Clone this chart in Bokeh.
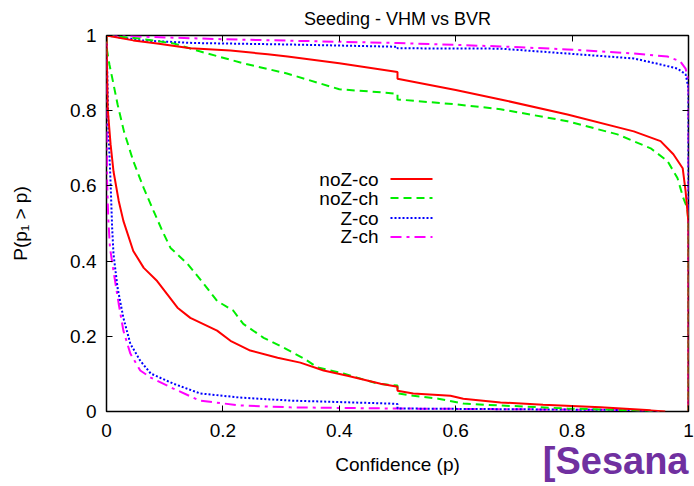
from bokeh.plotting import figure
from bokeh.models import Range1d, LinearAxis, FixedTicker, Label, Title
from bokeh.embed import file_html
from bokeh.resources import INLINE

# ---- data ----
# upper branch curves
noz_co_up_p = [0, 0.046, 0.087, 0.144, 0.213, 0.277, 0.311, 0.40, 0.5, 0.5, 0.6, 0.677, 0.792, 0.906, 0.952, 0.974, 0.99, 0.995, 1.0, 1.0]
noz_co_up_P = [1, 0.987, 0.979, 0.966, 0.960, 0.950, 0.944, 0.926, 0.903, 0.885, 0.855, 0.830, 0.790, 0.745, 0.719, 0.684, 0.647, 0.586, 0.50, 0]

noz_ch_up_p = [0, 0.05, 0.115, 0.16, 0.235, 0.31, 0.40, 0.48, 0.5, 0.5, 0.6, 0.677, 0.792, 0.878, 0.935, 0.964, 0.981, 0.991, 0.998, 1.0, 1.0]
noz_ch_up_P = [1, 0.993, 0.979, 0.958, 0.926, 0.899, 0.857, 0.848, 0.845, 0.830, 0.817, 0.804, 0.772, 0.737, 0.700, 0.666, 0.621, 0.568, 0.541, 0.50, 0]

z_co_up_p = [0, 0.06, 0.15, 0.316, 0.5, 0.5, 0.677, 0.792, 0.906, 0.952, 0.981, 0.995, 1.0, 1.0]
z_co_up_P = [1, 0.987, 0.980, 0.976, 0.970, 0.966, 0.965, 0.952, 0.939, 0.923, 0.912, 0.897, 0.86, 0]

z_ch_up_p = [0, 0.1, 0.2, 0.35, 0.5, 0.677, 0.792, 0.906, 0.964, 0.986, 0.995, 1.0, 1.0]
z_ch_up_P = [1, 0.995, 0.990, 0.985, 0.980, 0.971, 0.963, 0.952, 0.944, 0.931, 0.912, 0.88, 0]

# lower branch curves
noz_co_lo_p = [0, 0.002, 0.007, 0.012, 0.021, 0.029, 0.046, 0.064, 0.087, 0.122, 0.144, 0.19, 0.213, 0.247, 0.294, 0.333, 0.373, 0.414, 0.471, 0.5, 0.5, 0.527, 0.591, 0.613, 0.677, 0.75, 0.849, 0.935, 0.96]
noz_co_lo_P = [1, 0.806, 0.711, 0.639, 0.560, 0.507, 0.427, 0.382, 0.347, 0.276, 0.249, 0.215, 0.188, 0.162, 0.143, 0.130, 0.109, 0.095, 0.074, 0.066, 0.055, 0.048, 0.042, 0.034, 0.024, 0.018, 0.011, 0.003, 0]

noz_ch_lo_p = [0, 0.001, 0.005, 0.01, 0.019, 0.03, 0.046, 0.064, 0.081, 0.096, 0.11, 0.139, 0.167, 0.19, 0.218, 0.235, 0.27, 0.304, 0.339, 0.363, 0.407, 0.466, 0.5, 0.5, 0.527, 0.57, 0.613, 0.677, 0.792, 0.906, 0.95]
noz_ch_lo_P = [1, 0.96, 0.923, 0.886, 0.817, 0.745, 0.666, 0.594, 0.533, 0.480, 0.435, 0.393, 0.340, 0.294, 0.268, 0.233, 0.196, 0.170, 0.141, 0.117, 0.101, 0.074, 0.069, 0.048, 0.042, 0.034, 0.021, 0.016, 0.008, 0.003, 0]

z_co_lo_p = [0, 0.002, 0.0034, 0.0069, 0.0097, 0.012, 0.019, 0.029, 0.041, 0.058, 0.076, 0.115, 0.161, 0.23, 0.316, 0.488, 0.5, 0.5, 0.7, 0.9, 0.95]
z_co_lo_P = [1, 0.85, 0.745, 0.613, 0.489, 0.419, 0.329, 0.249, 0.180, 0.135, 0.101, 0.074, 0.048, 0.037, 0.029, 0.021, 0.020, 0.008, 0.006, 0.004, 0]

z_ch_lo_p = [0, 0.001, 0.003, 0.006, 0.012, 0.021, 0.029, 0.041, 0.058, 0.076, 0.115, 0.16, 0.23, 0.316, 0.488, 0.7, 0.9, 0.95]
z_ch_lo_P = [1, 0.613, 0.515, 0.435, 0.374, 0.286, 0.215, 0.154, 0.109, 0.090, 0.061, 0.029, 0.016, 0.011, 0.008, 0.006, 0.004, 0]

series_names = ["noZ-co", "noZ-ch", "Z-co", "Z-ch"]
ticks = [0, 0.2, 0.4, 0.6, 0.8, 1]
tick_labels = ["0", "0.2", "0.4", "0.6", "0.8", "1"]

# ---- layout ----
W, H = 694, 486
L, R, T, B = 106, 688, 34, 411
FONT = "Liberation Sans"

def sx(px):
    return (px - L) / (R - L)

def sy(py):
    return (B - py) / (B - T)

p = figure(width=W, height=H, output_backend="svg", toolbar_location=None,
           x_range=Range1d(0, 1), y_range=Range1d(0, 1),
           min_border_left=L, min_border_right=W - R, min_border_top=T,
           min_border_bottom=H - B, x_axis_label="Confidence (p)",
           y_axis_label="P(p\u2081 > p)", title="Seeding - VHM vs BVR")
p.grid.visible = False
p.outline_line_color = "black"
p.outline_line_width = 1.5
p.background_fill_color = "white"
p.border_fill_color = "white"

p.title.align = "center"
p.title.offset = -8
p.title.text_font = FONT
p.title.text_font_size = "18px"
p.title.text_font_style = "normal"
p.title.text_color = "black"
p.title.standoff = 13

overrides = {t: s for t, s in zip(ticks, tick_labels)}
for ax in p.xaxis + p.yaxis:
    ax.ticker = FixedTicker(ticks=ticks)
    ax.major_label_overrides = overrides
    ax.major_tick_in = 6
    ax.major_tick_out = 0
    ax.minor_tick_line_color = None
    ax.axis_line_color = None
    ax.major_tick_line_color = "black"
    ax.major_label_text_font = FONT
    ax.major_label_text_font_size = "19px"
    ax.major_label_text_color = "black"
    ax.axis_label_text_font = FONT
    ax.axis_label_text_font_size = "19px"
    ax.axis_label_text_font_style = "normal"
    ax.axis_label_text_color = "black"
p.xaxis.major_label_standoff = 12
p.yaxis.major_label_standoff = 10
p.xaxis.axis_label_standoff = 14
p.yaxis.axis_label_standoff = 36

for loc in ["above", "right"]:
    a = LinearAxis(ticker=FixedTicker(ticks=ticks), major_label_text_font_size="0px",
                   major_tick_in=6, major_tick_out=0, minor_tick_line_color=None,
                   axis_line_color=None, major_label_standoff=0)
    a.major_label_overrides = {t: "" for t in ticks}
    p.add_layout(a, loc)

styles = [
    dict(color="#ff0000", dash="solid"),
    dict(color="#00ee00", dash="8 5"),
    dict(color="#0000ff", dash="2 2"),
    dict(color="#ff00ff", dash="11 5 3 5"),
]
ups = [(noz_co_up_p, noz_co_up_P), (noz_ch_up_p, noz_ch_up_P), (z_co_up_p, z_co_up_P), (z_ch_up_p, z_ch_up_P)]
los = [(noz_co_lo_p, noz_co_lo_P), (noz_ch_lo_p, noz_ch_lo_P), (z_co_lo_p, z_co_lo_P), (z_ch_lo_p, z_ch_lo_P)]

for i in [3, 2, 1, 0]:
    st = styles[i]
    for xs, ys in (ups[i], los[i]):
        p.line(xs, ys, line_color=st["color"], line_width=2, line_dash=st["dash"])

# legend (gnuplot style: text then sample)
row_y = [178, 197, 217, 236]
for i, name in enumerate(series_names):
    st = styles[i]
    p.add_layout(Label(x=sx(378), y=sy(row_y[i]), text=name, text_align="right",
                       text_baseline="middle", text_font=FONT, text_font_size="19px",
                       text_color="black"))
    p.line([sx(390), sx(432)], [sy(row_y[i]), sy(row_y[i])], line_color=st["color"],
           line_width=2, line_dash=st["dash"])

# watermark as a title in the bottom panel, pulled up next to the axis label
wm = Title(text="[Sesana", align="right", vertical_align="top", text_font=FONT,
           text_font_size="38px", text_font_style="bold", text_color="#7030a0",
           standoff=-76, offset=0)
p.add_layout(wm, "below")

open("out.html", "w").write(file_html(p, INLINE))
